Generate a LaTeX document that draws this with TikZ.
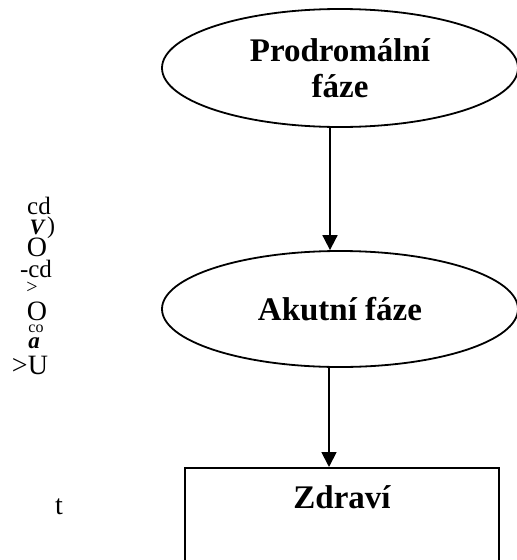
\documentclass[tikz,border=0pt]{standalone}
\usepackage{fontspec}
\setmainfont{Liberation Serif}
\usetikzlibrary{shapes.geometric,arrows.meta}
\tikzset{
  phase/.style={ellipse, draw, line width=1.8pt, minimum width=356pt,
    minimum height=118pt, inner sep=0pt, align=center,
    font=\fontsize{33}{36}\selectfont\bfseries},
  state/.style={rectangle, draw, line width=1.8pt, anchor=north,
    minimum width=314pt, inner ysep=9pt, text height=32pt, text depth=70pt,
    font=\fontsize{33}{36}\selectfont\bfseries},
  flow/.style={line width=1.8pt, -{Triangle[length=15pt,width=15pt]}},
  ocr/.style={inner sep=0pt, anchor=base, font=\fontsize{28}{28}\selectfont}
}
\begin{document}
\begin{tikzpicture}[x=1pt,y=-1pt]
\useasboundingbox (0,0) rectangle (517,560);
% phases
\node[phase] (prodrom) at (340,68) {Prodromální\\fáze};
\node[phase, minimum height=116pt] (akut) at (340,309) {Akutní fáze};
\node[state] (zdravi) at (342,467) {Zdraví};
\draw[flow] ([xshift=-10pt]prodrom.south) -- ([xshift=-10pt]akut.north);
\draw[flow] ([xshift=-11pt]akut.south) -- ([xshift=-13pt]zdravi.north);
% side text
\node[ocr, font=\fontsize{25}{25}\selectfont] (s1) at (39,214) {cd};
\node[ocr, font=\fontsize{22}{22}\selectfont\bfseries\itshape] (s2) at (37,234) {V};
\node[ocr, font=\fontsize{24}{24}\selectfont] (s3) at (51,233) {)};
\node[ocr] (s4) at (37,256) {O};
\node[ocr, font=\fontsize{25}{25}\selectfont] (s5) at (36,277) {-cd};
\node[ocr, font=\fontsize{20}{20}\selectfont] (s6) at (32,293) {>};
\node[ocr] (s7) at (37,320) {O};
\node[ocr, font=\fontsize{16}{16}\selectfont] (s8) at (36,332) {co};
\node[ocr, font=\fontsize{23}{23}\selectfont\bfseries\itshape] (s9) at (34,348) {a};
\node[ocr] (s10) at (30,374) {>U};
\node[ocr] (s11) at (59,514) {t};
\end{tikzpicture}
\end{document}
